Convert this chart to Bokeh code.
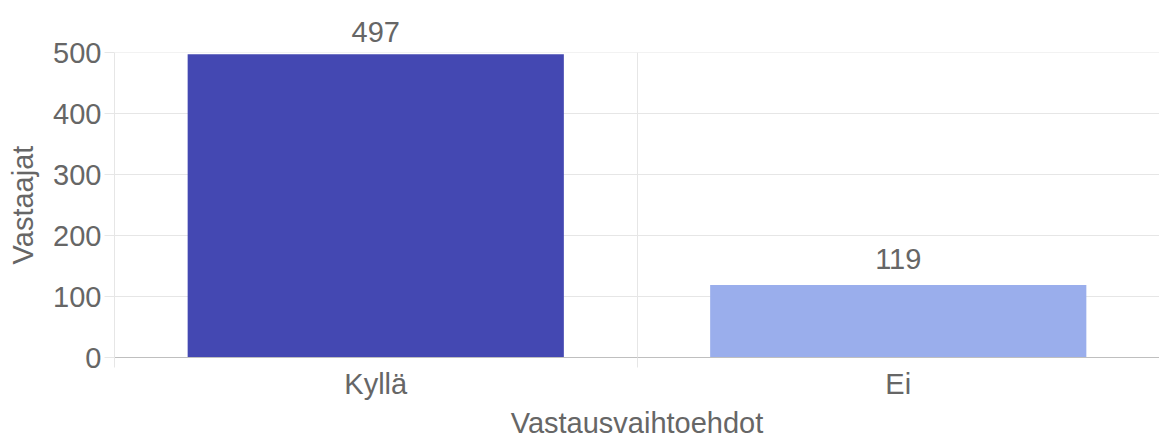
from bokeh.plotting import figure
from bokeh.models import (FactorRange, Range1d, LinearAxis, CategoricalAxis, FixedTicker,
                          Grid, Span, ColumnDataSource, LabelSet)
from bokeh.core.properties import value
from bokeh.embed import file_html
from bokeh.resources import INLINE

categories = ["Kyllä", "Ei"]
values = [497, 119]
colors = ["#4448B2", "#9AAEEC"]
y_ticks = [0, 100, 200, 300, 400, 500]
x_title = "Vastausvaihtoehdot"
y_title = "Vastaajat"

FONT = "Liberation Sans"
FS = "29px"
TXT = "#666666"
GRID = "#e6e6e6"

y_max = max(y_ticks)
# value labels that fit inside the plot area vs. those that must sit above it
inside = [v <= 0.8 * y_max for v in values]

src = ColumnDataSource(dict(cat=categories, val=values, col=colors))
lab_src = ColumnDataSource(dict(
    cat=[c for c, ok in zip(categories, inside) if ok],
    val=[v for v, ok in zip(values, inside) if ok],
    txt=[str(v) for v, ok in zip(values, inside) if ok]))

p = figure(x_range=FactorRange(factors=categories), y_range=Range1d(0, y_max),
           width=1159, height=441, output_backend="svg", toolbar_location=None,
           x_axis_location=None, title_location=None,
           min_border_left=114, min_border_top=52,
           min_border_right=0, min_border_bottom=84)
p.outline_line_color = None
for g in p.xgrid:
    g.grid_line_color = None

p.vbar(x="cat", top="val", width=0.72, fill_color="col", line_color=None, source=src)

# y axis
ya = p.yaxis[0]
ya.ticker = FixedTicker(ticks=y_ticks)
ya.major_tick_out = 10
ya.major_tick_in = 0
ya.major_tick_line_color = GRID
ya.minor_tick_line_color = None
ya.axis_line_color = GRID
ya.major_label_text_font = FONT
ya.major_label_text_font_size = FS
ya.major_label_text_color = TXT
ya.major_label_standoff = 3
ya.axis_label = y_title
ya.axis_label_text_font = FONT
ya.axis_label_text_font_size = FS
ya.axis_label_text_font_style = "normal"
ya.axis_label_text_color = TXT
ya.axis_label_standoff = 11
p.ygrid.ticker = FixedTicker(ticks=y_ticks)
p.ygrid.grid_line_color = GRID
p.add_layout(Span(location=y_max, dimension="width", line_color=GRID, line_width=1))

# category boundaries in the factor range's synthetic coordinates
bounds = list(range(len(categories) + 1))

tick_axis = LinearAxis(ticker=FixedTicker(ticks=bounds),
                       major_tick_out=10, major_tick_in=0, major_tick_line_color=GRID,
                       minor_tick_line_color=None, axis_line_color="#bfbfbf",
                       major_label_overrides={b: "" for b in bounds},
                       major_label_text_font_size="0px", major_label_standoff=0)
p.add_layout(tick_axis, "below")

cat_axis = CategoricalAxis(major_tick_line_color=None, major_tick_out=0, major_tick_in=0,
                           axis_line_color=None,
                           major_label_text_font=FONT, major_label_text_font_size=FS,
                           major_label_text_color=TXT, major_label_standoff=0,
                           axis_label=x_title, axis_label_text_font=FONT,
                           axis_label_text_font_size=FS, axis_label_text_font_style="normal",
                           axis_label_text_color=TXT, axis_label_standoff=4)
p.add_layout(cat_axis, "below")

# value labels too tall for the plot area are shown just above it
# (factor i sits at synthetic coordinate i + 0.5 of the FactorRange)
above_ticks = [i + 0.5 for i, ok in enumerate(inside) if not ok]
above_text = {i + 0.5: str(v) for i, (v, ok) in enumerate(zip(values, inside)) if not ok}
top_axis = LinearAxis(ticker=FixedTicker(ticks=above_ticks),
                      major_tick_line_color=None, major_tick_out=0, major_tick_in=0,
                      minor_tick_line_color=None, axis_line_color=None,
                      major_label_overrides=above_text,
                      major_label_text_font=FONT, major_label_text_font_size=FS,
                      major_label_text_color=TXT, major_label_standoff=11)
p.add_layout(top_axis, "above")

p.add_layout(Grid(dimension=0, ticker=FixedTicker(ticks=bounds), grid_line_color=GRID))

labels = LabelSet(x="cat", y="val", text="txt", source=lab_src, text_align="center",
                  text_baseline="alphabetic", y_offset=16, text_font=value(FONT),
                  text_font_size=value(FS), text_color=TXT)
p.add_layout(labels)

open("out.html", "w").write(file_html(p, INLINE))
